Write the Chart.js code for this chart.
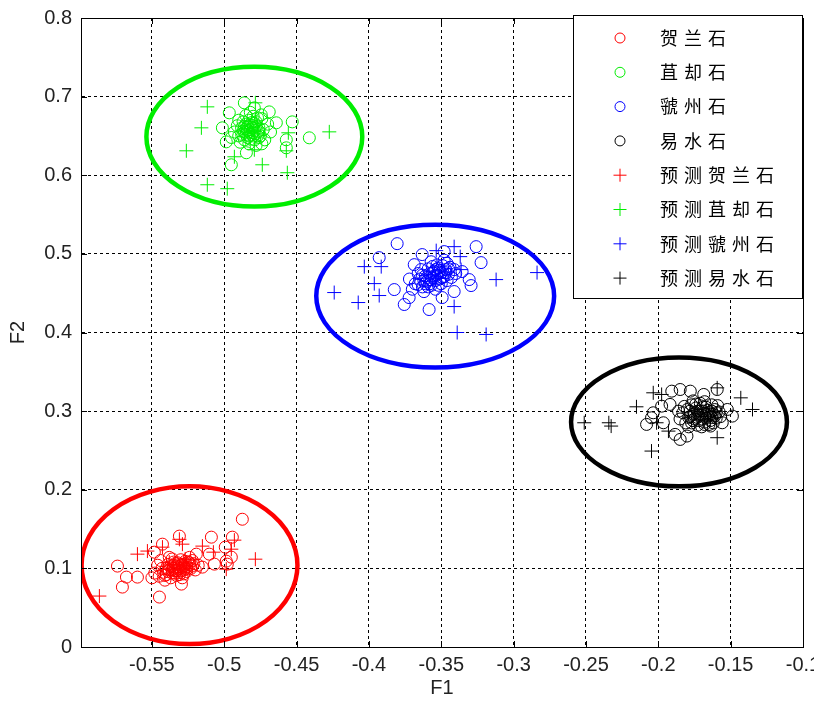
<!DOCTYPE html>
<html>
<head>
<meta charset="utf-8">
<script src="https://cdn.jsdelivr.net/npm/chart.js@4/dist/chart.umd.min.js"></script>
<style>
html,body{margin:0;padding:0;background:#fff;}
#wrap{width:814px;height:707px;}
</style>
</head>
<body>
<div id="wrap"><canvas id="c" width="814" height="707"></canvas></div>
<script>
// ---------- data ----------
const seriesLabels = ["贺兰石","苴却石","虢州石","易水石","预测贺兰石","预测苴却石","预测虢州石","预测易水石"];
const xTicks = [-0.55,-0.5,-0.45,-0.4,-0.35,-0.3,-0.25,-0.2,-0.15,-0.1];
const yTicks = [0,0.1,0.2,0.3,0.4,0.5,0.6,0.7,0.8];

const helanPts = [
 [-0.4875,0.1625],[-0.5089,0.1397],[-0.4944,0.1397],[-0.5310,0.1410],[-0.5427,0.1308],[-0.5738,0.1029],[-0.5676,0.0889],[-0.5600,0.0889],[-0.5704,0.0762],[-0.5448,0.0635],
 [-0.5296,0.0800],[-0.5151,0.1016],[-0.5068,0.1054],[-0.4951,0.1143],[-0.4979,0.1054],[-0.5103,0.1181],[-0.5193,0.1181],[-0.5483,0.1206],[-0.4993,0.1270],[-0.4986,0.1092],
 [-0.545,0.090],[-0.542,0.095],[-0.540,0.092],[-0.538,0.098],[-0.536,0.094],[-0.535,0.100],[-0.534,0.097],[-0.533,0.103],[-0.532,0.099],[-0.531,0.095],
 [-0.530,0.104],[-0.529,0.101],[-0.528,0.098],[-0.527,0.106],[-0.526,0.102],[-0.525,0.108],[-0.524,0.104],[-0.523,0.100],[-0.522,0.110],[-0.521,0.106],
 [-0.543,0.100],[-0.539,0.105],[-0.537,0.088],[-0.535,0.108],[-0.533,0.091],[-0.530,0.111],[-0.528,0.093],[-0.526,0.096],[-0.548,0.094],[-0.546,0.104],
 [-0.541,0.085],[-0.536,0.112],[-0.532,0.107],[-0.529,0.088],[-0.520,0.098],[-0.518,0.104],[-0.550,0.088],[-0.544,0.110],[-0.538,0.114],[-0.524,0.114],
 [-0.540,0.100],[-0.537,0.102],[-0.534,0.094],[-0.531,0.100],[-0.529,0.105],[-0.527,0.100],[-0.533,0.097],[-0.536,0.098],[-0.530,0.097],[-0.528,0.103],
 [-0.532,0.102],[-0.535,0.104],[-0.526,0.099],[-0.539,0.096],[-0.524,0.107],[-0.531,0.092],[-0.534,0.106],[-0.527,0.109],[-0.541,0.091],[-0.522,0.103]
];
const juquePts = [
 [-0.4412,0.6476],[-0.4530,0.6679],[-0.4689,0.6806],[-0.4861,0.6921],[-0.4965,0.6794],[-0.5013,0.6603],[-0.4986,0.6425],[-0.4847,0.6286],[-0.4951,0.6133],[-0.4571,0.6349],
 [-0.4571,0.6451],[-0.4640,0.6667],[-0.4744,0.6768],[-0.4792,0.6857],
 [-0.490,0.650],[-0.488,0.660],[-0.486,0.655],[-0.485,0.665],[-0.484,0.648],[-0.483,0.670],[-0.482,0.658],[-0.481,0.652],[-0.480,0.663],[-0.479,0.645],
 [-0.478,0.668],[-0.477,0.655],[-0.476,0.660],[-0.475,0.650],[-0.474,0.672],[-0.487,0.668],[-0.489,0.642],[-0.491,0.663],[-0.483,0.640],[-0.480,0.675],
 [-0.473,0.658],[-0.472,0.645],[-0.485,0.676],[-0.493,0.655],[-0.478,0.638],[-0.470,0.665],[-0.486,0.645],[-0.481,0.667],[-0.476,0.648],[-0.484,0.662],
 [-0.488,0.652],[-0.479,0.657],[-0.482,0.680],[-0.490,0.670],[-0.474,0.640],[-0.468,0.655],[-0.495,0.648],[-0.477,0.673],[-0.483,0.650],[-0.480,0.660],
 [-0.486,0.662],[-0.483,0.655],[-0.480,0.650],[-0.478,0.662],[-0.485,0.652],[-0.481,0.661],[-0.477,0.650],[-0.484,0.657],[-0.479,0.666],[-0.482,0.646],
 [-0.487,0.656],[-0.476,0.656],[-0.482,0.664],[-0.480,0.654],[-0.485,0.659]
];
const guozhouPts = [
 [-0.3805,0.5130],[-0.3929,0.4952],[-0.3259,0.5092],[-0.3225,0.4889],[-0.3307,0.4673],[-0.3294,0.4597],[-0.3584,0.4292],[-0.3756,0.4356],[-0.3825,0.4546],[-0.3494,0.4444],
 [-0.3632,0.4991],[-0.3480,0.5029],[-0.3687,0.4863],[-0.3356,0.4775],[-0.3722,0.4444],[-0.3411,0.4521],
 [-0.368,0.462],[-0.365,0.468],[-0.363,0.458],[-0.361,0.472],[-0.360,0.465],[-0.358,0.475],[-0.357,0.460],[-0.356,0.470],[-0.355,0.478],[-0.354,0.466],
 [-0.353,0.473],[-0.352,0.482],[-0.351,0.468],[-0.350,0.476],[-0.349,0.485],[-0.348,0.471],[-0.347,0.480],[-0.346,0.488],[-0.345,0.474],[-0.344,0.483],
 [-0.366,0.475],[-0.362,0.452],[-0.359,0.481],[-0.357,0.490],[-0.354,0.455],[-0.350,0.462],[-0.343,0.470],[-0.341,0.480],[-0.370,0.455],[-0.364,0.480],
 [-0.358,0.467],[-0.352,0.460],[-0.348,0.492],[-0.346,0.466],[-0.353,0.486],[-0.361,0.462],[-0.356,0.484],[-0.372,0.468],[-0.340,0.475],[-0.349,0.470],
 [-0.360,0.470],[-0.357,0.467],[-0.355,0.472],[-0.352,0.476],[-0.350,0.470],[-0.358,0.462],[-0.354,0.480],[-0.362,0.466],[-0.347,0.476],[-0.356,0.476],
 [-0.363,0.473],[-0.351,0.479],[-0.359,0.458],[-0.345,0.481],[-0.366,0.461]
];
const yishuiPts = [
 [-0.1907,0.3254],[-0.1849,0.3275],[-0.1779,0.3254],[-0.1686,0.3212],[-0.1593,0.3275],[-0.1919,0.3085],[-0.1977,0.3063],[-0.2035,0.2979],[-0.2047,0.2915],[-0.2081,0.2831],
 [-0.1849,0.2640],[-0.1802,0.2683],[-0.1884,0.2704],[-0.1523,0.3021],[-0.1488,0.2937],[-0.1558,0.2852],[-0.1639,0.2810],[-0.1965,0.2852],
 [-0.185,0.290],[-0.183,0.298],[-0.181,0.285],[-0.180,0.302],[-0.178,0.293],[-0.177,0.308],[-0.176,0.288],[-0.175,0.297],[-0.174,0.304],[-0.173,0.282],
 [-0.172,0.295],[-0.171,0.310],[-0.170,0.290],[-0.169,0.300],[-0.168,0.286],[-0.167,0.305],[-0.166,0.294],[-0.165,0.298],[-0.164,0.288],[-0.163,0.308],
 [-0.162,0.296],[-0.161,0.302],[-0.160,0.291],[-0.158,0.299],[-0.182,0.306],[-0.179,0.280],[-0.176,0.313],[-0.173,0.292],[-0.170,0.280],[-0.168,0.312],
 [-0.165,0.283],[-0.163,0.300],[-0.159,0.307],[-0.157,0.293],[-0.186,0.300],[-0.171,0.300],[-0.175,0.290],[-0.167,0.296],[-0.162,0.285],[-0.178,0.300],
 [-0.176,0.296],[-0.173,0.300],[-0.170,0.295],[-0.167,0.291],[-0.164,0.296],[-0.172,0.288],[-0.169,0.305],[-0.166,0.301],[-0.161,0.294],[-0.179,0.292],
 [-0.174,0.309],[-0.168,0.283],[-0.163,0.292],[-0.177,0.285],[-0.160,0.298]
];
const predHelanPts = [
 [-0.5863,0.0648],[-0.5600,0.1181],[-0.5531,0.1220],[-0.5427,0.1270],[-0.5289,0.1308],[-0.5310,0.1370],[-0.5151,0.1283],[-0.4951,0.1244],
 [-0.4930,0.1359],[-0.4785,0.1117],[-0.4986,0.0990],[-0.5075,0.1206],[-0.5380,0.1080],[-0.5350,0.1050],[-0.5270,0.1120]
];
const predJuquePts = [
 [-0.5117,0.6870],[-0.5158,0.6603],[-0.5262,0.6311],[-0.5117,0.5879],[-0.4979,0.5829],[-0.4930,0.6235],[-0.4737,0.6133],
 [-0.4564,0.6032],[-0.4571,0.6311],[-0.4557,0.6540],[-0.4274,0.6552],[-0.4785,0.6921],[-0.4792,0.6324]
];
const predGuozhouPts = [
 [-0.4240,0.4508],[-0.4074,0.4381],[-0.4032,0.4838],[-0.3963,0.4622],[-0.3929,0.4470],[-0.3915,0.4838],[-0.3535,0.5041],[-0.3411,0.5092],
 [-0.3369,0.4965],[-0.3363,0.4800],[-0.3121,0.4673],[-0.2838,0.4762],[-0.3411,0.4330],[-0.3390,0.4000],[-0.3190,0.3975]
];
const predYishuiPts = [
 [-0.2512,0.2852],[-0.2342,0.2852],[-0.2326,0.2810],[-0.2151,0.3055],[-0.2035,0.3233],[-0.1977,0.3212],[-0.1930,0.2746],
 [-0.2047,0.2492],[-0.1593,0.3296],[-0.1593,0.2662],[-0.1430,0.3169],[-0.1349,0.3021],[-0.2012,0.2852]
];
// confidence ellipses (data units)
const ellipseCX = [-0.524,-0.4792,-0.3542,-0.1857];
const ellipseCY = [0.104,0.649,0.4463,0.2863];
const ellipseRX = [0.0746,0.0746,0.0822,0.0746];
const ellipseRY = [0.1003,0.0889,0.0908,0.082];

// ---------- styles ----------
const seriesColors = ['#ff0000','#00ee00','#0000ff','#000000'];
const allPts = [helanPts,juquePts,guozhouPts,yishuiPts,predHelanPts,predJuquePts,predGuozhouPts,predYishuiPts];

const datasets = allPts.map((pts,i)=>{
  const isCircle = i < 4;
  const col = seriesColors[i % 4];
  return {
    label: seriesLabels[i],
    data: pts.map(p=>({x:p[0], y:p[1]})),
    pointStyle: isCircle ? 'circle' : 'cross',
    pointRadius: isCircle ? 6 : 7,
    pointHoverRadius: isCircle ? 6 : 7,
    borderColor: col,
    backgroundColor: 'rgba(0,0,0,0)',
    pointBorderWidth: 1,
    borderWidth: 1,
    showLine: false
  };
});

const ellipsePlugin = {
  id: 'ellipses',
  afterDatasetsDraw(chart){
    const {ctx, scales:{x,y}, chartArea} = chart;
    ctx.save();
    ctx.beginPath();
    ctx.rect(chartArea.left, chartArea.top, chartArea.right-chartArea.left, chartArea.bottom-chartArea.top);
    ctx.clip();
    for (let i=0;i<ellipseCX.length;i++){
      const cx = x.getPixelForValue(ellipseCX[i]);
      const cy = y.getPixelForValue(ellipseCY[i]);
      const rx = Math.abs(x.getPixelForValue(ellipseCX[i]+ellipseRX[i]) - cx);
      const ry = Math.abs(y.getPixelForValue(ellipseCY[i]+ellipseRY[i]) - cy);
      ctx.beginPath();
      ctx.ellipse(cx, cy, rx, ry, 0, 0, Math.PI*2);
      ctx.strokeStyle = seriesColors[i];
      ctx.lineWidth = 4.5;
      ctx.stroke();
    }
    ctx.restore();
  }
};

const framePlugin = {
  id: 'frame',
  afterDraw(chart){
    const {ctx, chartArea:a, scales:{x,y}} = chart;
    ctx.save();
    ctx.strokeStyle = '#000';
    ctx.lineWidth = 1;
    ctx.strokeRect(Math.round(a.left)+0.5, Math.round(a.top)+0.5, Math.round(a.right-a.left), Math.round(a.bottom-a.top));
    ctx.beginPath();
    const tl = 6;
    x.ticks.forEach(t=>{
      const px = Math.round(x.getPixelForValue(t.value))+0.5;
      ctx.moveTo(px, a.bottom); ctx.lineTo(px, a.bottom - tl);
      ctx.moveTo(px, a.top); ctx.lineTo(px, a.top + tl);
    });
    y.ticks.forEach(t=>{
      const py = Math.round(y.getPixelForValue(t.value))+0.5;
      ctx.moveTo(a.left, py); ctx.lineTo(a.left + tl, py);
      ctx.moveTo(a.right, py); ctx.lineTo(a.right - tl, py);
    });
    ctx.stroke();
    ctx.restore();
  }
};

const legendPlugin = {
  id: 'boxLegend',
  afterDraw(chart){
    const {ctx, chartArea:a} = chart;
    const ds = chart.data.datasets;
    const boxR = a.right - 1, boxW = 229, boxT = a.top - 3, rowH = 34.3, boxH = 283;
    const boxL = boxR - boxW;
    ctx.save();
    ctx.fillStyle = '#fff';
    ctx.fillRect(boxL, boxT, boxW, boxH);
    ctx.strokeStyle = '#000';
    ctx.lineWidth = 1;
    ctx.strokeRect(Math.round(boxL)+0.5, Math.round(boxT)+0.5, boxW, boxH);
    ds.forEach((d,i)=>{
      const cy = boxT + 23 + i*rowH;
      const mx = boxL + 47;
      ctx.strokeStyle = d.borderColor;
      ctx.lineWidth = 1;
      ctx.beginPath();
      if (d.pointStyle === 'circle') {
        ctx.arc(mx, cy, 5, 0, Math.PI*2);
      } else {
        ctx.moveTo(mx-6.5, cy); ctx.lineTo(mx+6.5, cy);
        ctx.moveTo(mx, cy-6.5); ctx.lineTo(mx, cy+6.5);
      }
      ctx.stroke();
      ctx.fillStyle = '#000';
      ctx.font = '18px "Noto Sans CJK SC"';
      ctx.textBaseline = 'middle';
      ctx.textAlign = 'left';
      try { ctx.letterSpacing = '6px'; } catch(e){}
      ctx.fillText(d.label, boxL + 87, cy);
    });
    ctx.restore();
  }
};

const tickFont = {family: '"Liberation Sans", Arial, sans-serif', size: 20};

new Chart(document.getElementById('c'), {
  type: 'scatter',
  data: { datasets },
  options: {
    responsive: false,
    animation: false,
    layout: { padding: { top: 18, right: 11, left: 0, bottom: 0 } },
    plugins: { legend: { display: false }, tooltip: { enabled: false } },
    scales: {
      x: {
        type: 'linear',
        min: -0.599, max: -0.1,
        afterBuildTicks(scale){ scale.ticks = xTicks.map(v=>({value:v})); },
        afterFit(scale){ scale.height = 60; scale.paddingRight = 0; scale.paddingLeft = 0; },
        ticks: { color: '#222', font: tickFont, padding: 6, maxRotation: 0, autoSkip: false,
                 callback: (v)=> String(v) },
        grid: { color: '#000', lineWidth: 1, drawTicks: false },
        border: { display: true, color: '#000', dash: [3,3] },
        title: { display: true, text: 'F1', color: '#222', font: {family: '"Liberation Sans", Arial, sans-serif', size: 20}, padding: {top: 0, bottom: 7} }
      },
      y: {
        type: 'linear',
        min: 0, max: 0.8,
        afterBuildTicks(scale){ scale.ticks = yTicks.map(v=>({value:v})); },
        afterFit(scale){ scale.width = 81; scale.paddingTop = 0; scale.paddingBottom = 0; },
        ticks: { color: '#222', font: tickFont, padding: 9, autoSkip: false,
                 callback: (v)=> String(Math.round(v*10)/10) },
        grid: { color: '#000', lineWidth: 1, drawTicks: false },
        border: { display: true, color: '#000', dash: [3,3] },
        title: { display: true, text: 'F2', color: '#222', font: {family: '"Liberation Sans", Arial, sans-serif', size: 20}, padding: {top: 6, bottom: 0} }
      }
    }
  },
  plugins: [ellipsePlugin, framePlugin, legendPlugin]
});
</script>
</body>
</html>
